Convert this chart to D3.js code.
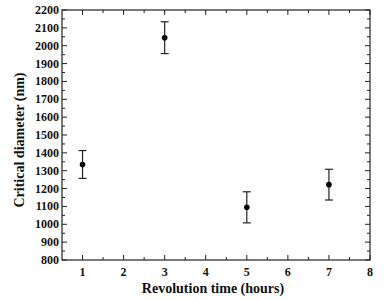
<!DOCTYPE html>
<html>
<head>
<meta charset="utf-8">
<script src="https://cdn.jsdelivr.net/npm/d3@7"></script>
<style>
  body { margin: 0; background: #fff; }
</style>
</head>
<body>
<svg id="chart" width="391" height="300"></svg>
<script>
// data
const hours = [1, 3, 5, 7];
const diameter = [1335, 2045, 1095, 1222];
const errors = [78, 89, 87, 86];

const xMajor = [1, 2, 3, 4, 5, 6, 7, 8];
const yMajor = d3.range(800, 2201, 100);

const margin = { left: 62, top: 10, right: 21, bottom: 40 };
const width = 391, height = 300;
const innerWidth = width - margin.left - margin.right;
const innerHeight = height - margin.top - margin.bottom;
const serif = "'Liberation Serif', 'DejaVu Serif', 'Times New Roman', serif";

const svg = d3.select('#chart');
const g = svg.append('g')
  .attr('transform', `translate(${margin.left},${margin.top})`);

const xScale = d3.scaleLinear().domain([0.5, 8]).range([0, innerWidth]);
const yScale = d3.scaleLinear().domain([800, 2200]).range([innerHeight, 0]);

const xMinor = d3.range(1.5, 8, 1);
const yMinor = d3.range(850, 2200, 100);

const stroke = '#222';

// frame
g.append('rect')
  .attr('width', innerWidth)
  .attr('height', innerHeight)
  .attr('fill', 'none')
  .attr('stroke', stroke)
  .attr('stroke-width', 1.2);

// inward ticks on every side
const tickLines = (vals, scale, horiz, len, pos) => {
  g.selectAll(null).data(vals).enter().append('line')
    .attr('x1', d => horiz ? scale(d) : pos)
    .attr('x2', d => horiz ? scale(d) : pos + len)
    .attr('y1', d => horiz ? pos : scale(d))
    .attr('y2', d => horiz ? pos + len : scale(d))
    .attr('stroke', stroke)
    .attr('stroke-width', 1);
};
tickLines(xMajor, xScale, true, -5, innerHeight);
tickLines(xMinor, xScale, true, -3, innerHeight);
tickLines(xMajor, xScale, true, 5, 0);
tickLines(xMinor, xScale, true, 3, 0);
tickLines(yMajor, yScale, false, 5, 0);
tickLines(yMinor, yScale, false, 3, 0);
tickLines(yMajor, yScale, false, -5, innerWidth);
tickLines(yMinor, yScale, false, -3, innerWidth);

// tick labels
g.selectAll('.xt').data(xMajor).enter().append('text')
  .attr('font-family', serif)
  .attr('font-size', 12)
  .attr('font-weight', 'bold')
  .attr('fill', '#111')
  .attr('x', d => xScale(d))
  .attr('y', innerHeight + 16)
  .attr('text-anchor', 'middle')
  .text(d => d);

g.selectAll('.yt').data(yMajor).enter().append('text')
  .attr('font-family', serif)
  .attr('font-size', 12)
  .attr('font-weight', 'bold')
  .attr('fill', '#111')
  .attr('x', -3)
  .attr('y', d => yScale(d) + 4)
  .attr('text-anchor', 'end')
  .text(d => d);

// axis titles
g.append('text')
  .attr('font-family', serif)
  .attr('font-size', 14)
  .attr('font-weight', 'bold')
  .attr('fill', '#111')
  .attr('x', innerWidth / 2 - 3)
  .attr('y', innerHeight + 33)
  .attr('text-anchor', 'middle')
  .text('Revolution time (hours)');

g.append('text')
  .attr('font-family', serif)
  .attr('font-size', 14)
  .attr('font-weight', 'bold')
  .attr('fill', '#111')
  .attr('transform', 'rotate(-90)')
  .attr('x', -innerHeight / 2 - 5)
  .attr('y', -38)
  .attr('text-anchor', 'middle')
  .text('Critical diameter (nm)');

// error bars + points
const pts = hours.map((h, i) => ({ x: h, y: diameter[i], e: errors[i] }));
const cap = 4;

const eb = g.selectAll('.eb').data(pts).enter().append('g').attr('class', 'eb');
eb.append('line')
  .attr('x1', d => xScale(d.x)).attr('x2', d => xScale(d.x))
  .attr('y1', d => yScale(d.y + d.e)).attr('y2', d => yScale(d.y - d.e))
  .attr('stroke', stroke).attr('stroke-width', 1.2);
eb.append('line')
  .attr('x1', d => xScale(d.x) - cap).attr('x2', d => xScale(d.x) + cap)
  .attr('y1', d => yScale(d.y + d.e)).attr('y2', d => yScale(d.y + d.e))
  .attr('stroke', stroke).attr('stroke-width', 1.2);
eb.append('line')
  .attr('x1', d => xScale(d.x) - cap).attr('x2', d => xScale(d.x) + cap)
  .attr('y1', d => yScale(d.y - d.e)).attr('y2', d => yScale(d.y - d.e))
  .attr('stroke', stroke).attr('stroke-width', 1.2);
eb.append('circle')
  .attr('cx', d => xScale(d.x))
  .attr('cy', d => yScale(d.y))
  .attr('r', 2.8)
  .attr('fill', '#000');
</script>
</body>
</html>
